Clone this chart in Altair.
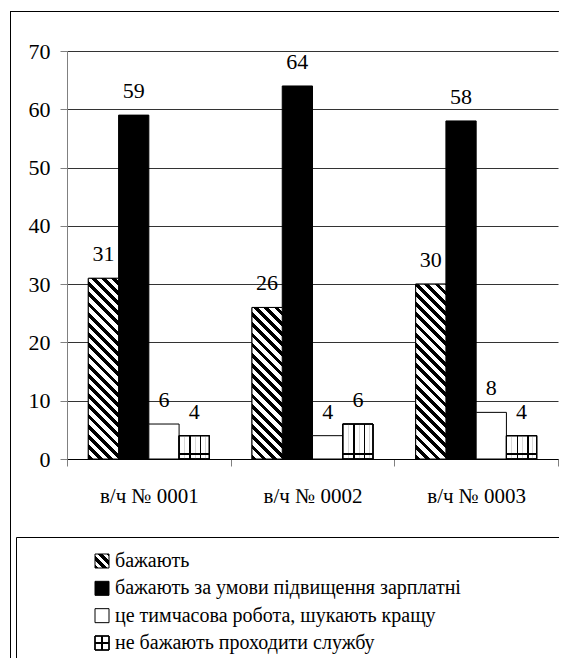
import math
import altair as alt
import pandas as pd

# ---------------- data ----------------
categories = ["в/ч № 0001", "в/ч № 0002", "в/ч № 0003"]
series_names = [
    "бажають",
    "бажають за умови підвищення зарплатні",
    "це тимчасова робота, шукають кращу",
    "не бажають проходити службу",
]
s_want = [31, 26, 30]
s_want_pay = [59, 64, 58]
s_temp = [6, 4, 8]
s_not = [4, 6, 4]
y_ticks = [0, 10, 20, 30, 40, 50, 60, 70]

# ---------------- layout (px, relative to the outer frame) ----------------
W, H = 549, 647
X0, X1 = 57, 548
Y0, Y1 = 448, 40
Y_MAX = 70
BAR_PAD_OUTER = 0.705
FONT = "Liberation Serif, Times New Roman, DejaVu Serif, serif"
LEG_Y = [550, 632]

rows = []
for name, vals in zip(series_names, [s_want, s_want_pay, s_temp, s_not]):
    for c, v in zip(categories, vals):
        rows.append({"category": c, "series": name, "value": v})
df = pd.DataFrame(rows)

band = (X1 - X0) / len(categories)
bar_w = band / (len(series_names) + 2 * BAR_PAD_OUTER)
px_per_unit = (Y0 - Y1) / Y_MAX

CLEAR = "rgba(0,0,0,0)"


def stops_to_gradient(stops, x1, y1, x2, y2):
    return alt.LinearGradient(
        gradient="linear",
        x1=x1, y1=y1, x2=x2, y2=y2,
        stops=[alt.GradientStop(offset=round(min(max(o, 0), 1), 5), color=c) for o, c in stops],
    )


def hatch_gradient(w, h, period=7.0, dark=3.0, phase=0.0):
    """diagonal '\\' stripes in a w x h box (object bounding box units)"""
    L = (w + h) / math.sqrt(2)
    s = (w + h) / (w * w + h * h)
    stops = []
    t = -phase
    while t < L:
        a, b, c = t / L, (t + dark) / L, (t + period) / L
        stops += [(a, "#000"), (b, "#000"), (b, "#fff"), (c, "#fff")]
        t += period
    return stops_to_gradient(stops, 0, 1, s * w, 1 - s * h)


def lines_gradient(length, positions, width=1.5, vertical_lines=True, color="#000"):
    stops = [(0, CLEAR)]
    for p in positions:
        a, b = (p - width / 2) / length, (p + width / 2) / length
        stops += [(a, CLEAR), (a, color), (b, color), (b, CLEAR)]
    stops.append((1, CLEAR))
    if vertical_lines:
        return stops_to_gradient(stops, 0, 0, 1, 0)
    return stops_to_gradient(stops, 0, 0, 0, 1)


# ---------------- encodings ----------------
x_enc = alt.X(
    "category:N",
    sort=categories,
    scale=alt.Scale(domain=categories, range=[X0, X1], paddingInner=0, paddingOuter=0),
    axis=alt.Axis(
        title=None, offset=Y0 - H, tickBand="extent", tickSize=7, tickColor="#808080",
        domainColor="#000000", labelFont=FONT, labelFontSize=21, labelColor="black",
        labelPadding=19, grid=False, labelAngle=0,
    ),
)
xoff_enc = alt.XOffset(
    "series:N", sort=series_names,
    scale=alt.Scale(domain=series_names, paddingInner=0, paddingOuter=BAR_PAD_OUTER),
)
y_enc = alt.Y(
    "value:Q",
    scale=alt.Scale(domain=[0, Y_MAX], range=[Y0, Y1], nice=False, zero=True),
    axis=alt.Axis(
        title=None, offset=-X0, values=y_ticks, tickSize=7, tickColor="#808080",
        domainColor="#808080", labelFont=FONT, labelFontSize=22, labelColor="black",
        labelPadding=10, grid=True, gridColor="#333333", gridWidth=1,
    ),
)

base = alt.Chart(df).encode(x=x_enc, xOffset=xoff_enc, y=y_enc)

bars = base.mark_bar(stroke="black", strokeWidth=1).encode(
    fill=alt.Fill(
        "series:N",
        scale=alt.Scale(domain=series_names, range=["white", "black", "white", "white"]),
        legend=None,
    )
)

hatch_layers = []
for c, v in zip(categories, s_want):
    hatch_layers.append(
        base.transform_filter(
            (alt.datum.series == series_names[0]) & (alt.datum.category == c)
        ).mark_bar(fill=hatch_gradient(bar_w, v * px_per_unit, period=7.2, dark=3.4),
                   stroke="black", strokeWidth=1)
    )

grid_vf = base.transform_filter(alt.datum.series == series_names[3]).mark_bar(
    fill=lines_gradient(bar_w, [5.5, 16.5, 26.5], width=1.0, vertical_lines=True, color="#d8d8d8"),
    stroke="black", strokeWidth=1,
)
grid_v = base.transform_filter(alt.datum.series == series_names[3]).mark_bar(
    fill=lines_gradient(bar_w, [11, 21.5], vertical_lines=True), stroke="black", strokeWidth=1
)
grid_h_layers = []
for c, v in zip(categories, s_not):
    h = v * px_per_unit
    pos = []
    d = 5
    while d < h - 3:
        pos.append(h - d)
        d += 10
    grid_h_layers.append(
        base.transform_filter(
            (alt.datum.series == series_names[3]) & (alt.datum.category == c)
        ).mark_bar(fill=lines_gradient(h, pos, vertical_lines=False), stroke="black", strokeWidth=1)
    )

labels = base.mark_text(
    baseline="alphabetic", dy=-17, font=FONT, fontSize=22, color="black"
).encode(text="value:Q")

main = alt.layer(bars, *hatch_layers, grid_vf, grid_v, *grid_h_layers, labels)

# ---------------- legend & frames ----------------
leg_df = pd.DataFrame({"series": series_names})
leg_y = alt.Y(
    "series:N", sort=series_names,
    scale=alt.Scale(type="point", domain=series_names, range=LEG_Y, padding=0),
    axis=None,
)
one = alt.Chart(pd.DataFrame({"k": [0]}))
frame_left = one.mark_rule(color="black", strokeWidth=1).encode(
    x=alt.value(0.5), y=alt.value(0), y2=alt.value(H)
)
frame_top = one.mark_rule(color="black", strokeWidth=1).encode(
    x=alt.value(0), x2=alt.value(W + 20), y=alt.value(0.5)
)
box_left = one.mark_rule(color="black", strokeWidth=1).encode(
    x=alt.value(6.5), y=alt.value(526.5), y2=alt.value(H)
)
box_top = one.mark_rule(color="black", strokeWidth=1).encode(
    x=alt.value(6.5), x2=alt.value(W + 20), y=alt.value(526.5)
)

leg_base = alt.Chart(leg_df).encode(y=leg_y, x=alt.value(92))
sym_fills = [
    hatch_gradient(14, 14, period=6.6, dark=3.8, phase=1.5),
    "black",
    "white",
    None,
]
symbols = []
for i, name in enumerate(series_names):
    sub = leg_base.transform_filter(alt.datum.series == name)
    if sym_fills[i] is None:
        symbols.append(sub.mark_square(size=196, filled=True, fill="white", stroke="black", strokeWidth=1, opacity=1))
        symbols.append(sub.mark_square(size=196, filled=True, fill=lines_gradient(14, [7], width=1.2, vertical_lines=True), stroke="black", strokeWidth=1, opacity=1))
        symbols.append(sub.mark_square(size=196, filled=True, fill=lines_gradient(14, [7], width=1.2, vertical_lines=False), stroke="black", strokeWidth=1, opacity=1))
    else:
        symbols.append(sub.mark_square(size=196, filled=True, fill=sym_fills[i], stroke="black", strokeWidth=1, opacity=1))

leg_text = leg_base.mark_text(
    align="left", baseline="middle", font=FONT, fontSize=20, color="black"
).encode(x=alt.value(105), text="series:N")

legend = alt.layer(frame_left, frame_top, box_left, box_top, *symbols, leg_text)

chart = (
    alt.layer(main, legend)
    .resolve_scale(x="independent", y="independent")
    .properties(
        width=W, height=H,
        autosize=alt.AutoSizeParams(type="none"),
        padding={"left": 2, "top": 3, "right": 0, "bottom": 0},
        background="white",
        view=alt.ViewBackground(stroke=None, strokeWidth=0),
    )
    .configure_view(stroke=None, strokeWidth=0)
)

chart.save("out.html", embed_options={"renderer": "svg", "actions": False})
